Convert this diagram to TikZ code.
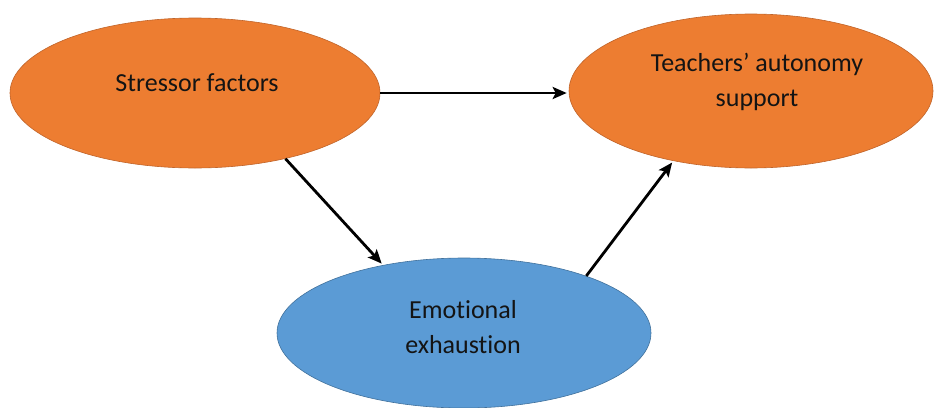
\documentclass[tikz,border=0pt]{standalone}
\usepackage{fontspec}
\setmainfont[Ligatures=NoCommon]{Carlito}
\usetikzlibrary{shapes.geometric,arrows.meta}
\definecolor{orangefill}{HTML}{ED7D31}
\definecolor{orangeline}{HTML}{C0642A}
\definecolor{bluefill}{HTML}{5B9BD5}
\definecolor{blueline}{HTML}{41719C}
\definecolor{txt}{HTML}{141414}
\tikzset{
  oval/.style={ellipse, draw=#1line, fill=#1fill, line width=0.6pt, inner sep=0pt},
  lbl/.style={font=\fontsize{26}{35}\selectfont, text=txt, align=center, inner sep=0pt},
  link/.style={line width=2.8pt, shorten >=2pt, -{Stealth[length=14pt,width=12pt,inset=3pt]}},
}
\begin{document}
\begin{tikzpicture}[x=1pt,y=-1pt]
\useasboundingbox (0,0) rectangle (936,407);
\node[oval=orange, minimum width=370pt, minimum height=150pt] (s) at (195,93) {};
\node[oval=orange, minimum width=364pt, minimum height=154pt] (t) at (751,91) {};
\node[oval=blue, minimum width=374pt, minimum height=150pt] (e) at (464,333) {};
\node[lbl] (sl) at (197,83) {Stressor factors};
\node[lbl] (tl) at (757,82) {Teachers’ autonomy\\support};
\node[lbl] (el) at (463,327) {Emotional\\exhaustion};
\draw[link] (s.east) -- (s.east -| t.west);
\draw[link] (s.-36) -- (e.140);
\draw[link] (e.25) -- (t.222);
\end{tikzpicture}
\end{document}
